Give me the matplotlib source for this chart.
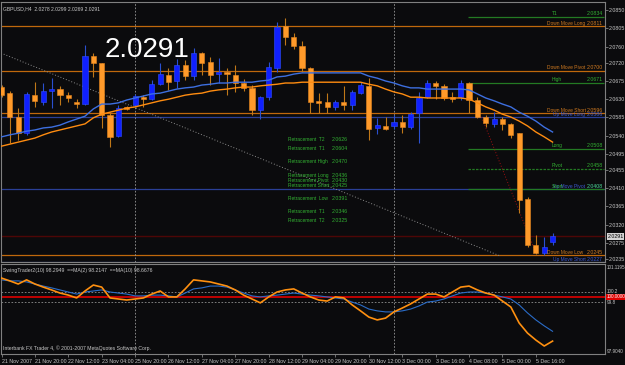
import numpy as np
import matplotlib
matplotlib.use("Agg")
import matplotlib.pyplot as plt
import matplotlib.transforms as mtransforms

plt.rcParams.update({
    "font.family": ["Liberation Sans", "DejaVu Sans"],
    "font.size": 4,
})

# GBPUSD H4 candles, 21 Nov 2007 04:00 .. 5 Dec 2007 20:00
opens = [2.0660, 2.0645, 2.0586, 2.0546, 2.0640, 2.0623, 2.0650, 2.0655, 2.0640, 2.0623,
         2.0618, 2.0737, 2.0719, 2.0591, 2.0539, 2.0608, 2.0616, 2.0635, 2.0630, 2.0667,
         2.0690, 2.0675, 2.0714, 2.0687, 2.0744, 2.0722, 2.0692, 2.0697, 2.0690, 2.0670,
         2.0658, 2.0603, 2.0635, 2.0707, 2.0811, 2.0784, 2.0761, 2.0707, 2.0626, 2.0623,
         2.0611, 2.0623, 2.0616, 2.0645, 2.0663, 2.0559, 2.0564, 2.0564, 2.0574, 2.0561,
         2.0596, 2.0635, 2.0670, 2.0663, 2.0635, 2.0635, 2.0670, 2.0628, 2.0586, 2.0569,
         2.0581, 2.0569, 2.0546, 2.0383, 2.0270, 2.0250, 2.0278]
highs = [2.0665, 2.0650, 2.0608, 2.0648, 2.0672, 2.0670, 2.0682, 2.0663, 2.0648, 2.0630,
         2.0764, 2.0744, 2.0720, 2.0598, 2.0616, 2.0613, 2.0643, 2.0640, 2.0677, 2.0719,
         2.0707, 2.0729, 2.0727, 2.0756, 2.0747, 2.0734, 2.0732, 2.0707, 2.0714, 2.0680,
         2.0665, 2.0638, 2.0722, 2.0821, 2.0831, 2.0793, 2.0774, 2.0710, 2.0645, 2.0645,
         2.0628, 2.0663, 2.0653, 2.0672, 2.0682, 2.0584, 2.0586, 2.0591, 2.0591, 2.0598,
         2.0648, 2.0677, 2.0675, 2.0667, 2.0648, 2.0677, 2.0672, 2.0635, 2.0591, 2.0598,
         2.0586, 2.0571, 2.0546, 2.0388, 2.0295, 2.0290, 2.0299]
lows = [2.0635, 2.0522, 2.0529, 2.0542, 2.0611, 2.0616, 2.0608, 2.0616, 2.0623, 2.0608,
        2.0616, 2.0685, 2.0559, 2.0512, 2.0537, 2.0603, 2.0613, 2.0611, 2.0628, 2.0665,
        2.0653, 2.0658, 2.0677, 2.0677, 2.0690, 2.0665, 2.0670, 2.0640, 2.0648, 2.0650,
        2.0591, 2.0581, 2.0628, 2.0697, 2.0764, 2.0754, 2.0697, 2.0596, 2.0596, 2.0596,
        2.0603, 2.0603, 2.0603, 2.0643, 2.0529, 2.0544, 2.0554, 2.0556, 2.0546, 2.0556,
        2.0522, 2.0633, 2.0630, 2.0628, 2.0623, 2.0628, 2.0596, 2.0584, 2.0561, 2.0561,
        2.0554, 2.0534, 2.0349, 2.0265, 2.0248, 2.0245, 2.0269]
closes = [2.0640, 2.0586, 2.0546, 2.0643, 2.0626, 2.0650, 2.0655, 2.0640, 2.0633, 2.0618,
          2.0737, 2.0719, 2.0591, 2.0537, 2.0608, 2.0606, 2.0638, 2.0630, 2.0667, 2.0692,
          2.0672, 2.0714, 2.0687, 2.0744, 2.0719, 2.0690, 2.0697, 2.0692, 2.0670, 2.0658,
          2.0603, 2.0635, 2.0710, 2.0808, 2.0784, 2.0761, 2.0707, 2.0623, 2.0621, 2.0611,
          2.0623, 2.0616, 2.0648, 2.0665, 2.0556, 2.0566, 2.0556, 2.0574, 2.0561, 2.0593,
          2.0633, 2.0670, 2.0663, 2.0633, 2.0630, 2.0670, 2.0628, 2.0586, 2.0571, 2.0581,
          2.0569, 2.0542, 2.0381, 2.0270, 2.0250, 2.0265, 2.0291]

# moving averages on price
ma_fast = [2.0537, 2.0542, 2.0546, 2.0551, 2.0554, 2.0559, 2.0561, 2.0566, 2.0574, 2.0581,
           2.0588, 2.0606, 2.0618, 2.0618, 2.0621, 2.0628, 2.0633, 2.0638, 2.0643, 2.0645,
           2.0650, 2.0655, 2.0658, 2.0660, 2.0665, 2.0667, 2.0670, 2.0670, 2.0672, 2.0672,
           2.0672, 2.0675, 2.0677, 2.0685, 2.0687, 2.0692, 2.0695, 2.0695, 2.0695, 2.0695,
           2.0695, 2.0695, 2.0695, 2.0695, 2.0687, 2.0682, 2.0675, 2.0670, 2.0663, 2.0658,
           2.0658, 2.0655, 2.0655, 2.0655, 2.0655, 2.0655, 2.0653, 2.0643, 2.0633, 2.0626,
           2.0618, 2.0611, 2.0598, 2.0588, 2.0576, 2.0561, 2.0549]
ma_slow = [2.0514, 2.0519, 2.0524, 2.0529, 2.0534, 2.0542, 2.0549, 2.0554, 2.0559, 2.0564,
           2.0569, 2.0584, 2.0593, 2.0598, 2.0603, 2.0608, 2.0611, 2.0616, 2.0621, 2.0626,
           2.0630, 2.0635, 2.0640, 2.0643, 2.0645, 2.0650, 2.0653, 2.0655, 2.0658, 2.0660,
           2.0660, 2.0663, 2.0665, 2.0667, 2.0670, 2.0670, 2.0672, 2.0672, 2.0672, 2.0672,
           2.0672, 2.0672, 2.0672, 2.0672, 2.0667, 2.0663, 2.0655, 2.0648, 2.0643, 2.0635,
           2.0635, 2.0633, 2.0633, 2.0633, 2.0633, 2.0633, 2.0630, 2.0621, 2.0611, 2.0603,
           2.0593, 2.0586, 2.0576, 2.0564, 2.0549, 2.0537, 2.0524]

# SwingTrader2(10) and its MA(10)
swing = [100.73, 100.62, 100.50, 100.66, 100.50, 100.38, 100.27, 100.15, 100.07, 99.96,
         100.23, 100.46, 100.38, 99.96, 99.92, 99.88, 99.92, 99.96, 100.11, 100.23,
         100.00, 100.00, 100.31, 100.66, 100.62, 100.58, 100.50, 100.42, 100.27, 100.07,
         99.92, 99.77, 100.00, 100.19, 100.27, 100.31, 100.15, 100.00, 99.88, 99.84,
         100.00, 99.96, 99.69, 99.46, 99.22, 99.11, 99.18, 99.42, 99.57, 99.73,
         99.92, 100.11, 100.11, 100.00, 100.19, 100.38, 100.42, 100.27, 100.15, 100.07,
         99.84, 99.61, 98.99, 98.60, 98.33, 98.10, 98.29]
swing_ma = [100.66, 100.62, 100.62, 100.58, 100.50, 100.42, 100.35, 100.27, 100.19, 100.11,
            100.19, 100.23, 100.27, 100.19, 100.15, 100.11, 100.04, 100.04, 100.07, 100.07,
            100.04, 100.00, 100.15, 100.31, 100.35, 100.42, 100.42, 100.38, 100.27, 100.15,
            100.04, 100.00, 100.04, 100.07, 100.11, 100.15, 100.11, 100.07, 100.04, 100.00,
            99.96, 99.92, 99.80, 99.69, 99.53, 99.46, 99.42, 99.42, 99.46, 99.53,
            99.65, 99.80, 99.84, 99.92, 100.04, 100.15, 100.19, 100.19, 100.15, 100.07,
            100.00, 99.92, 99.69, 99.38, 99.11, 98.88, 98.67]

time_labels = ["21 Nov 2007", "21 Nov 20:00", "22 Nov 12:00", "23 Nov 04:00", "25 Nov 20:00",
               "26 Nov 12:00", "27 Nov 04:00", "27 Nov 20:00", "28 Nov 12:00", "29 Nov 04:00",
               "29 Nov 20:00", "30 Nov 12:00", "3 Dec 00:00", "3 Dec 16:00", "4 Dec 08:00",
               "5 Dec 00:00", "5 Dec 16:00"]
price_ticks = [2.0850, 2.0805, 2.0760, 2.0720, 2.0675, 2.0630, 2.0585, 2.0540, 2.0495,
               2.0455, 2.0410, 2.0365, 2.0320, 2.0275, 2.0235]

# full-width levels: name, price, colour kind
move_names = ["Down Move Long", "Down Move Pivot", "Down Move Short", "Up Move Long",
              "Up Move Pivot", "Down Move Low", "Up Move Short"]
move_prices = [2.0811, 2.0700, 2.0596, 2.0586, 2.0408, 2.0245, 2.0227]
move_kind = ["down", "down", "down", "up", "up", "down", "up"]
# short green levels on the right
pivot_names = ["T1", "High", "Long", "Pivot", "Short"]
pivot_prices = [2.0834, 2.0671, 2.0508, 2.0458, 2.0408]
# retracement text block
retr_names = ["Retracement  T2", "Retracement  T1", "Retracement High", "Retracement Long",
              "Retracement Pivot", "Retracement Short", "Retracement  Low", "Retracement  T1",
              "Retracement  T2"]
retr_values = ["2.0626", "2.0604", "2.0470", "2.0436", "2.0430", "2.0425", "2.0391",
               "2.0346", "2.0325"]

# trend lines (bar index, price)
trend_x = [-0.06, 59.7]
trend_p = [2.0744, 2.0243]
red_x = [57.5, 64.0]
red_p = [2.0586, 2.0250]
cross_bars = [16, 47]
last_close = 2.0291

BG = "#0b0b0d"
FRAME = "#808080"
TXT = "#c8c8c8"
ORANGE = "#ff9a2a"
ORANGE_WICK = "#c07818"
BLUE = "#1020ff"
BLUE_WICK = "#2a50d0"
LVL_ORANGE = "#c0680c"
LVL_BLUE = "#2a3f96"
GREEN_LINE = "#237a23"
GREEN_TXT = "#32b032"
FS = 3.8
FS_NAME = 3.5

fig = plt.figure(figsize=(6.25, 3.65), dpi=100, facecolor=BG)
ax = fig.add_axes([1 / 625, 1 - 262 / 365, 604 / 625, 260 / 365], facecolor=BG)
ax2 = fig.add_axes([1 / 625, 1 - 354 / 365, 604 / 625, 90 / 365], facecolor=BG)

n = len(opens)
idx = np.arange(n)
o = np.array(opens)
c = np.array(closes)
h = np.array(highs)
l = np.array(lows)
up = c > o

# levels behind the candles
for name, p, kind in zip(move_names, move_prices, move_kind):
    col = LVL_ORANGE if kind == "down" else LVL_BLUE
    ax.axhline(p, color=col, lw=0.9, zorder=1)
green_start = 55.9
ax.hlines(pivot_prices, green_start, 72.2, colors=GREEN_LINE, lw=0.9, zorder=1,
          linestyles=["-", "-", "-", (0, (2, 1)), "-"])
ax.axhline(last_close, color="#4e0606", lw=1.0, zorder=1)

ax.plot(trend_x, trend_p, color="#8c8c8c", lw=0.7, ls=(0, (1, 2)), zorder=1)
ax.plot(red_x, red_p, color="#a01010", lw=0.7, ls=(0, (1, 2)), zorder=1)
for b in cross_bars:
    ax.axvline(b, color="#9a9a9a", lw=0.6, ls=(0, (2, 2)), zorder=1)
    ax2.axvline(b, color="#9a9a9a", lw=0.6, ls=(0, (2, 2)), zorder=1)

# candles
ax.vlines(idx, l, h, colors=np.where(up, BLUE_WICK, ORANGE_WICK), lw=0.8, zorder=2)
body_lo = np.minimum(o, c)
body_h = np.maximum(np.abs(c - o), 0.0004)
ax.bar(idx, body_h, bottom=body_lo, width=0.62,
       color=np.where(up, BLUE, ORANGE), edgecolor=np.where(up, "#3050ff", "#e88820"),
       linewidth=0.4, zorder=3)

ax.plot(idx, ma_fast, color="#3d6fe0", lw=1.0, zorder=4)
ax.plot(idx, ma_slow, color="#ff8c10", lw=1.0, zorder=4)

ax.set_xlim(-0.06, 72.28)
ax.set_ylim(2.02279, 2.08701)

# level labels
for name, p, kind in zip(move_names, move_prices, move_kind):
    col = "#d07a20" if kind == "down" else "#3c5ad0"
    x0 = 65.3 if kind == "down" else 66.0
    ax.text(x0, p + 0.0001, name, color=col, fontsize=FS_NAME, va="bottom", ha="left",
            zorder=5, clip_on=True)
    ax.text(72.0, p + 0.0001, "%.4f" % p, color=col, fontsize=FS, va="bottom",
            ha="right", zorder=5, clip_on=True)
for name, p in zip(pivot_names, pivot_prices):
    ax.text(65.9, p + 0.0001, name, color=GREEN_TXT, fontsize=FS_NAME, va="bottom", zorder=5)
    ax.text(72.0, p + 0.0001, "%.4f" % p, color=GREEN_TXT, fontsize=FS, va="bottom",
            ha="right", zorder=5)

retr_y = [0.473, 0.435, 0.385, 0.331, 0.313, 0.296, 0.246, 0.196, 0.158]
for name, val, yy in zip(retr_names, retr_values, retr_y):
    ax.text(0.475, yy, name, color=GREEN_TXT, fontsize=FS_NAME, transform=ax.transAxes,
            va="center", ha="left", zorder=5)
    ax.text(0.547, yy, val, color=GREEN_TXT, fontsize=FS, transform=ax.transAxes,
            va="center", ha="left", zorder=5)

ax.text(0.172, 0.788, "2.0291", color="white", fontsize=20, transform=ax.transAxes,
        va="baseline", ha="left", zorder=6)
ax.text(0.003, 0.985, "GBPUSD,H4  2.0278 2.0299 2.0269 2.0291", color=TXT, fontsize=3.6,
        transform=ax.transAxes, va="top", ha="left", zorder=6)

# price axis on the right
ax.yaxis.tick_right()
ax.set_yticks(price_ticks)
ax.set_yticklabels(["%.4f" % t for t in price_ticks])
ax.tick_params(axis="y", colors=FRAME, labelcolor=TXT, labelsize=FS, length=2, width=0.6,
               pad=0.8)
ax.set_xticks([])
trans = mtransforms.blended_transform_factory(ax.transAxes, ax.transData)
ax.text(1.004, last_close, "%.4f" % last_close, transform=trans, color="black",
        fontsize=FS, va="center", ha="left", clip_on=False,
        bbox=dict(boxstyle="square,pad=0.15", fc="#d4d4d4", ec="none"), zorder=7)

# indicator window
ax2.axhline(100.0, color="#d00000", lw=1.3, zorder=1)
ax2.axhline(100.2, color="#909090", lw=0.6, ls=(0, (2, 2)), zorder=1)
ax2.axhline(99.8, color="#909090", lw=0.6, ls=(0, (2, 2)), zorder=1)
ax2.plot(idx, swing_ma, color="#2a6cc8", lw=0.8, zorder=2)
ax2.plot(idx, swing, color="#ff9010", lw=1.2, zorder=3)
ax2.set_xlim(-0.06, 72.28)
ax2.set_ylim(97.791, 101.274)
ax2.set_yticks([])
ax2.set_xticks(np.arange(0, 4 * len(time_labels), 4))
ax2.set_xticklabels(time_labels, ha="left")
ax2.tick_params(axis="x", colors=FRAME, labelcolor=TXT, labelsize=FS, length=2, width=0.6,
                pad=1.5)
trans2 = mtransforms.blended_transform_factory(ax2.transAxes, ax2.transData)
for v, lab in [(101.1195, "101.1195"), (100.2, "100.2"), (99.8, "99.8"), (97.904, "97.9040")]:
    ax2.text(1.003, v, lab, transform=trans2, color=TXT, fontsize=3.3, va="center",
             ha="left", clip_on=False)
ax2.text(1.003, 100.0, "100.0000", transform=trans2, color="white", fontsize=3.3,
         va="center", ha="left", clip_on=False,
         bbox=dict(boxstyle="square,pad=0.08", fc="#e00000", ec="none"))
ax2.text(0.003, 0.96, "SwingTrader2(10) 98.2949  ==MA(2) 98.2147  ==MA(10) 98.6676",
         color=TXT, fontsize=3.7, transform=ax2.transAxes, va="top", ha="left")
ax2.text(0.003, 0.03, "Interbank FX Trader 4, \u00a9 2001-2007 MetaQuotes Software Corp.",
         color=TXT, fontsize=3.7, transform=ax2.transAxes, va="bottom", ha="left")

for a in (ax, ax2):
    for s in a.spines.values():
        s.set_color(FRAME)
        s.set_linewidth(0.8)

fig.savefig("out.png", dpi=100, facecolor=BG)
